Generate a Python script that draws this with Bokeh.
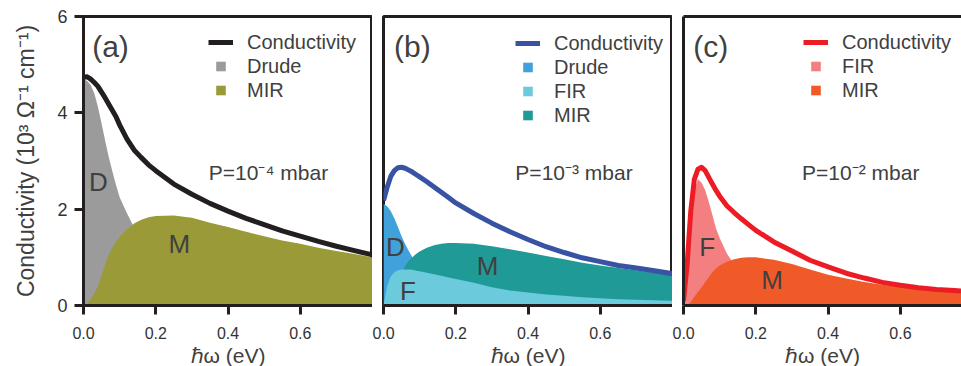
from bokeh.plotting import figure
from bokeh.layouts import row
from bokeh.models import (Legend, LegendItem, Label, FixedTicker, LinearAxis,
                          Range1d, PrintfTickFormatter)
from bokeh.embed import file_html
from bokeh.resources import INLINE

# ---------------- data ----------------
energy = [0.0, 0.01, 0.02, 0.03, 0.04, 0.05, 0.06, 0.07, 0.08, 0.09, 0.10,
          0.12, 0.14, 0.16, 0.18, 0.20, 0.25, 0.30, 0.35, 0.40, 0.45, 0.50,
          0.55, 0.60, 0.65, 0.70, 0.75, 0.80]

# panel (a)  P = 1e-4 mbar
cond_a = [4.74, 4.75, 4.70, 4.63, 4.55, 4.43, 4.31, 4.18, 4.05, 3.92, 3.75,
          3.46, 3.23, 3.07, 2.92, 2.80, 2.52, 2.31, 2.12, 1.96, 1.81, 1.68,
          1.55, 1.44, 1.33, 1.23, 1.14, 1.05]
drude_a = [4.70, 4.66, 4.58, 4.40, 4.12, 3.78, 3.42, 3.08, 2.78, 2.50, 2.25,
           1.92, 1.62, 1.35, 1.15, 0.98, 0.68, 0.50, 0.38, 0.30, 0.24, 0.20,
           0.17, 0.14, 0.12, 0.11, 0.10, 0.09]
mir_a = [0.0, 0.04, 0.13, 0.26, 0.40, 0.62, 0.85, 1.05, 1.20, 1.32, 1.42,
         1.58, 1.70, 1.78, 1.83, 1.86, 1.87, 1.82, 1.72, 1.63, 1.53, 1.44,
         1.35, 1.28, 1.20, 1.13, 1.07, 1.00]

# panel (b)  P = 1e-3 mbar
cond_b = [2.18, 2.45, 2.68, 2.80, 2.86, 2.87, 2.85, 2.81, 2.77, 2.72, 2.67,
          2.57, 2.46, 2.35, 2.24, 2.13, 1.91, 1.71, 1.53, 1.37, 1.22, 1.10,
          0.99, 0.91, 0.83, 0.78, 0.72, 0.66]
drude_b = [2.11, 2.06, 1.96, 1.81, 1.63, 1.44, 1.27, 1.13, 1.00, 0.89, 0.80,
           0.65, 0.53, 0.44, 0.37, 0.32, 0.22, 0.16, 0.12, 0.10, 0.08, 0.07,
           0.06, 0.05, 0.04, 0.04, 0.03, 0.03]
fir_b = [0.0, 0.40, 0.60, 0.69, 0.73, 0.75, 0.75, 0.75, 0.74, 0.72, 0.71,
         0.68, 0.65, 0.62, 0.58, 0.55, 0.47, 0.38, 0.31, 0.27, 0.23, 0.20,
         0.17, 0.15, 0.13, 0.12, 0.11, 0.10]
mir_b = [0.0, 0.05, 0.15, 0.30, 0.48, 0.66, 0.82, 0.93, 1.00, 1.07, 1.12,
         1.20, 1.25, 1.28, 1.30, 1.30, 1.28, 1.23, 1.17, 1.10, 1.03, 0.96,
         0.89, 0.83, 0.78, 0.73, 0.68, 0.64]

# panel (c)  P = 1e-2 mbar
cond_c = [0.10, 0.85, 1.95, 2.62, 2.83, 2.87, 2.80, 2.66, 2.52, 2.39, 2.27,
          2.07, 1.93, 1.80, 1.68, 1.56, 1.32, 1.13, 0.94, 0.80, 0.67, 0.57,
          0.48, 0.42, 0.37, 0.33, 0.31, 0.29]
fir_c = [0.0, 0.75, 1.80, 2.40, 2.62, 2.55, 2.40, 2.15, 1.88, 1.60, 1.40,
         1.08, 0.85, 0.62, 0.48, 0.38, 0.22, 0.14, 0.10, 0.07, 0.05, 0.05,
         0.04, 0.04, 0.03, 0.03, 0.03, 0.03]
mir_c = [0.0, 0.0, 0.07, 0.18, 0.28, 0.38, 0.49, 0.59, 0.69, 0.77, 0.83,
         0.91, 0.96, 0.99, 1.00, 1.00, 0.95, 0.86, 0.75, 0.64, 0.56, 0.49,
         0.43, 0.39, 0.35, 0.31, 0.28, 0.26]

x_ticks = [0.0, 0.2, 0.4, 0.6]
y_ticks = [0, 2, 4, 6]
x_label = "\u210f\u03c9 (eV)"
y_label = "Conductivity (10\u00b3 \u03a9\u207b\u00b9 cm\u207b\u00b9)"

FONT = "Liberation Sans"
TXT = "#404040"
FRAME = "#231f20"
FRAME_H = 289
ROW_H = 24


def make_fig(border_left, frame_w, x_end, with_y, outline=True):
    p = figure(frame_width=frame_w, frame_height=FRAME_H,
               x_range=Range1d(0, x_end), y_range=Range1d(0, 6),
               output_backend="svg", toolbar_location=None,
               min_border_left=border_left, min_border_right=0,
               min_border_top=16, min_border_bottom=61,
               y_axis_location="left" if with_y else None)
    p.grid.visible = False
    p.background_fill_color = "white"
    p.border_fill_color = "white"
    if outline:
        p.outline_line_color = FRAME
        p.outline_line_width = 3
        p.outline_line_alpha = 1
    else:
        p.outline_line_color = None
    ax = p.xaxis[0]
    ax.ticker = FixedTicker(ticks=x_ticks)
    ax.formatter = PrintfTickFormatter(format="%.1f")
    ax.axis_line_width = 3
    ax.axis_line_color = FRAME
    ax.major_tick_line_width = 3
    ax.major_tick_line_color = FRAME
    ax.major_tick_in = 0
    ax.major_tick_out = 9
    ax.minor_tick_line_color = None
    ax.major_label_text_font = FONT
    ax.major_label_text_font_size = "16px"
    ax.major_label_text_color = "#333333"
    ax.major_label_standoff = 12
    ax.axis_label = x_label
    ax.axis_label_text_font = FONT
    ax.axis_label_text_font_size = "21px"
    ax.axis_label_text_font_style = "normal"
    ax.axis_label_text_color = TXT
    ax.axis_label_standoff = 2
    if with_y:
        ay = p.yaxis[0]
        ay.ticker = FixedTicker(ticks=y_ticks)
        ay.axis_line_width = 3
        ay.axis_line_color = FRAME
        ay.major_tick_line_width = 3
        ay.major_tick_line_color = FRAME
        ay.major_tick_in = 0
        ay.major_tick_out = 9
        ay.minor_tick_line_color = None
        ay.major_label_text_font = FONT
        ay.major_label_text_font_size = "18px"
        ay.major_label_text_color = "#333333"
        ay.major_label_standoff = 7
        ay.axis_label = y_label
        ay.axis_label_text_font = FONT
        ay.axis_label_text_font_size = "23px"
        ay.axis_label_text_font_style = "normal"
        ay.axis_label_text_color = TXT
        ay.axis_label_standoff = 15
    return p


def bare_axis():
    return LinearAxis(ticker=FixedTicker(ticks=[]), axis_line_width=3,
                      axis_line_color=FRAME, major_tick_line_color=None,
                      minor_tick_line_color=None, major_label_text_font_size="0px",
                      major_tick_out=0, major_tick_in=0, major_label_standoff=0)


def add_legend(p, items, left, top):
    # left/top: offsets (px) of the first glyph / first row from the frame's top-left
    height = len(items) * ROW_H
    leg = Legend(items=items, location=(left, FRAME_H - top - height),
                 margin=0, padding=0, spacing=0, glyph_width=25,
                 glyph_height=ROW_H, label_height=ROW_H, label_standoff=14,
                 label_text_font=FONT, label_text_font_size="20px",
                 label_text_color=TXT, border_line_color=None,
                 background_fill_alpha=0)
    p.add_layout(leg)


def swatch(p, color):
    return p.scatter(x=[float("nan")], y=[float("nan")], marker="square",
                     size=10, fill_color=color, line_color=None)


def label(p, x, y, text, size, align="center", baseline="middle"):
    p.add_layout(Label(x=x, y=y, text=text, text_font=FONT,
                       text_font_size=size, text_color=TXT,
                       text_align=align, text_baseline=baseline))


# ---------------- panel (a) ----------------
pa = make_fig(83, 289, 0.8, True)
pa.varea(x=energy, y1=0, y2=drude_a, fill_color="#9b9b9b")
pa.varea(x=energy, y1=0, y2=mir_a, fill_color="#9a9b38")
la = pa.line(energy, cond_a, line_width=5, line_color=FRAME, line_join="round")
add_legend(pa, [LegendItem(label="Conductivity", renderers=[la]),
                LegendItem(label="Drude", renderers=[swatch(pa, "#9b9b9b")]),
                LegendItem(label="MIR", renderers=[swatch(pa, "#9a9b38")])],
           125, 14)
label(pa, 0.024, 5.38, "(a)", "30px", align="left")
label(pa, 0.041, 2.57, "D", "26px")
label(pa, 0.265, 1.27, "M", "26px")
label(pa, 0.347, 2.77, "P=10\u207b\u2074 mbar", "21px", align="left")

# ---------------- panel (b) ----------------
pb = make_fig(11, 289, 0.8, False)
pb.varea(x=energy, y1=0, y2=drude_b, fill_color="#41a1da")
pb.varea(x=energy, y1=0, y2=mir_b, fill_color="#1f9a97")
pb.varea(x=energy, y1=0, y2=fir_b, fill_color="#6bcbdc")
lb = pb.line(energy, cond_b, line_width=5, line_color="#3953a4", line_join="round")
add_legend(pb, [LegendItem(label="Conductivity", renderers=[lb]),
                LegendItem(label="Drude", renderers=[swatch(pb, "#41a1da")]),
                LegendItem(label="FIR", renderers=[swatch(pb, "#6bcbdc")]),
                LegendItem(label="MIR", renderers=[swatch(pb, "#1f9a97")])],
           132, 15)
label(pb, 0.029, 5.38, "(b)", "30px", align="left")
label(pb, 0.033, 1.21, "D", "26px")
label(pb, 0.288, 0.81, "M", "26px")
label(pb, 0.068, 0.31, "F", "26px")
label(pb, 0.365, 2.77, "P=10\u207b\u00b3 mbar", "21px", align="left")

# ---------------- panel (c) ----------------
pc = make_fig(11, 278, 0.769, False, outline=False)
pc.add_layout(bare_axis(), "above")
pc.add_layout(bare_axis(), "left")
pc.varea(x=energy, y1=0, y2=fir_c, fill_color="#f37f81")
pc.varea(x=energy, y1=0, y2=mir_c, fill_color="#f05a28")
lc = pc.line(energy, cond_c, line_width=5, line_color="#ed1c24", line_join="round")
add_legend(pc, [LegendItem(label="Conductivity", renderers=[lc]),
                LegendItem(label="FIR", renderers=[swatch(pc, "#f37f81")]),
                LegendItem(label="MIR", renderers=[swatch(pc, "#f05a28")])],
           120, 14)
label(pc, 0.027, 5.38, "(c)", "30px", align="left")
label(pc, 0.0655, 1.21, "F", "26px")
label(pc, 0.245, 0.52, "M", "26px")
label(pc, 0.328, 2.77, "P=10\u207b\u00b2 mbar", "21px", align="left")

layout = row(pa, pb, pc)
open("out.html", "w").write(file_html(layout, INLINE))
